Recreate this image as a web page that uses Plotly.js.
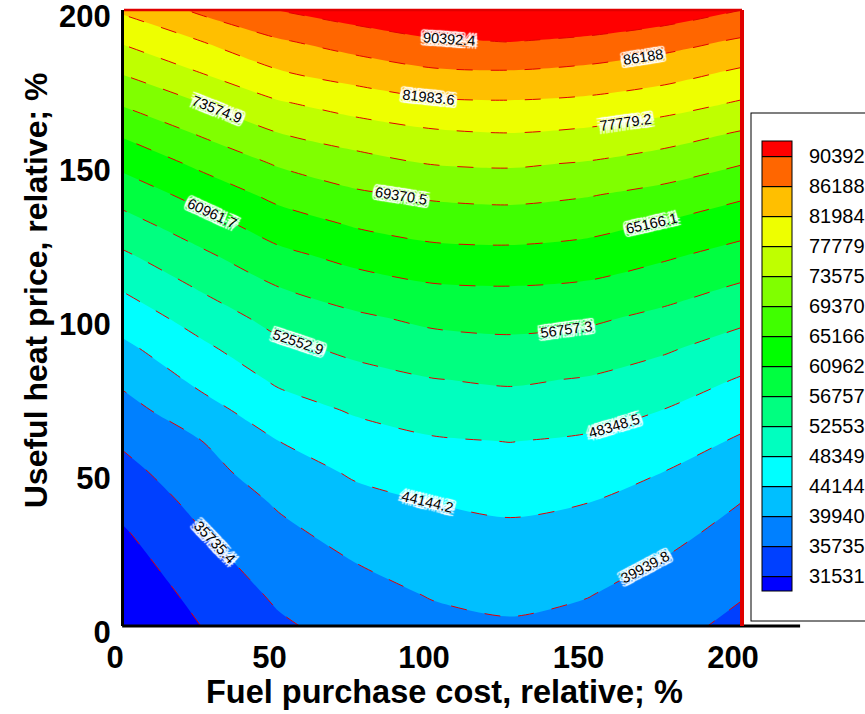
<!DOCTYPE html>
<html><head><meta charset="utf-8">
<script src="https://cdn.plot.ly/plotly-3.0.1.min.js"></script>
<style>html,body{margin:0;padding:0;background:#fff}</style>
</head><body>
<div id="chart" style="width:865px;height:714px"></div>
<script>
// Fuel purchase cost, relative (%) – grid columns
const xValues = [0, 25, 50, 75, 100, 125, 150, 175, 200];
// Useful heat price, relative (%) – grid rows
const yValues = [0, 10, 20, 30, 40, 50, 60, 70, 80, 90, 100, 110, 120, 130, 140, 150, 160, 170, 180, 190, 200];

// values read along each x column, from y = 0 up to y = 200
const zAtX0   = [27000, 28380, 29760, 31140, 32777, 34507, 36360, 38516, 40786, 43273, 45978, 48840, 51909, 55108, 58474, 62041, 65832, 69976, 74052, 78380, 82692];
const zAtX25  = [31560, 32853, 34175, 35497, 36940, 38410, 39880, 42595, 45160, 47470, 50134, 53011, 55871, 59059, 62469, 66037, 69829, 73662, 77981, 82033, 87029];
const zAtX50  = [35111, 36389, 37670, 38952, 40372, 42249, 44125, 46564, 49009, 51453, 54035, 56730, 59817, 62999, 66294, 69749, 73536, 77465, 81766, 85824, 90535];
const zAtX75  = [37400, 38639, 39878, 41425, 42988, 44670, 46691, 48765, 51075, 53487, 56082, 59044, 62191, 65431, 68741, 71989, 75637, 79697, 83872, 88182, 92560];
const zAtX100 = [38931, 40154, 41488, 42823, 44163, 46065, 47968, 50167, 52439, 55003, 57678, 60558, 63743, 66860, 69997, 73680, 77183, 81376, 85673, 90002, 94336];
const zAtX125 = [39556, 40812, 42093, 43375, 44854, 46627, 48418, 50728, 53075, 55563, 58158, 60853, 63996, 67157, 70448, 74054, 77742, 81669, 85971, 90577, 95250];
const zAtX150 = [38781, 40063, 41428, 42793, 44162, 45982, 47802, 49966, 52276, 54837, 57491, 60312, 63325, 66430, 69622, 73215, 77015, 81109, 85177, 89653, 94316];
const zAtX175 = [37000, 38295, 39590, 41052, 42575, 44098, 46163, 48244, 50593, 53011, 55706, 58513, 61436, 64597, 68112, 71647, 75448, 79686, 83717, 87901, 92964];
const zAtX200 = [34726, 35946, 37264, 38582, 39899, 41736, 43588, 45735, 48007, 50640, 53388, 56268, 59323, 62482, 65793, 69482, 73202, 77436, 81394, 85668, 90392];

// contour levels (as labelled on the chart) and legend labels
const levels = [31531.0, 35735.4, 39939.8, 44144.1, 48348.5, 52552.9, 56757.3, 60961.7, 65166.1, 69370.5, 73574.9, 77779.2, 81983.6, 86188.0, 90392.4];
const legendLabels = ['31531', '35735', '39940', '44144', '48349', '52553', '56757', '60962', '65166', '69370', '73575', '77779', '81984', '86188', '90392'];
// colour of each band, lowest (below first level) to highest (above last level)
const bandColors = ['#0000FF', '#0040FF', '#0080FF', '#00BFFF', '#00FFFF', '#00FFBF', '#00FF80', '#00FF40',
                    '#00FF00', '#40FF00', '#80FF00', '#BFFF00', '#EEFF00', '#FFBF00', '#FF6600', '#FF0000'];
const xTitle = 'Fuel purchase cost, relative; %';
const yTitle = 'Useful heat price, relative; %';

const columns = [zAtX0, zAtX25, zAtX50, zAtX75, zAtX100, zAtX125, zAtX150, zAtX175, zAtX200];
const z = yValues.map((_, i) => columns.map(c => c[i]));
const cStart = levels[0];
const cEnd = levels[levels.length - 1];
const cSize = (cEnd - cStart) / (levels.length - 1);
const colorscale = bandColors.map((c, k) => [k / (bandColors.length - 1), c]);

const FONT = 'Liberation Sans, Arial, sans-serif';
const labelHalo = ['3px 0 1px #fff', '-3px 0 1px #fff', '0 3px 1px #fff', '0 -3px 1px #fff',
                   '3px 3px 1px #fff', '-3px -3px 1px #fff', '3px -3px 1px #fff', '-3px 3px 1px #fff',
                   '0 0 3px #fff'].join(', ');

const visible = {
  type: 'contour', x: xValues, y: yValues, z: z,
  autocontour: false,
  contours: {
    start: cStart, end: cEnd, size: cSize, coloring: 'fill',
    showlines: true, showlabels: true, labelformat: '.6~g',
    labelfont: {family: FONT, size: 14.5, color: '#000', shadow: labelHalo}
  },
  colorscale: colorscale,
  line: {color: '#e00000', width: 1, dash: '16px,18px', smoothing: 0.8},
  showscale: false, hoverinfo: 'skip'
};

const legendTrace = {
  type: 'contour', x: xValues, y: yValues, z: z,
  autocontour: false, opacity: 0,
  contours: {start: cStart, end: cEnd, size: cSize, coloring: 'fill', showlines: true, showlabels: false},
  colorscale: colorscale,
  line: {color: '#000', width: 1.2, smoothing: 0.8},
  showscale: true, hoverinfo: 'skip',
  colorbar: {
    x: 1.0162, xanchor: 'left', y: 0.4213, yanchor: 'middle',
    len: 506, lenmode: 'pixels', thickness: 30, thicknessmode: 'pixels',
    bgcolor: '#fff', bordercolor: '#000', borderwidth: 1,
    outlinecolor: '#000', outlinewidth: 1,
    xpad: 10, ypad: 28,
    tickmode: 'array', tickvals: levels, ticktext: legendLabels,
    ticks: 'outside', ticklen: 13, tickcolor: 'rgba(0,0,0,0)',
    tickfont: {family: FONT, size: 20, color: '#000'}
  }
};

const axisFont = {family: FONT, size: 31, color: '#000', weight: 700};
const layout = {
  width: 865, height: 714,
  margin: {l: 124, r: 123, t: 10, b: 88, pad: 0, autoexpand: false},
  paper_bgcolor: '#fff', plot_bgcolor: '#fff',
  showlegend: false,
  xaxis: {
    range: [0, 200], tickvals: [0, 50, 100, 150, 200],
    showgrid: false, zeroline: false, showline: false,
    ticks: '', tickfont: axisFont, ticklabelshift: -9, ticklabelstandoff: 10,
    ticklabeloverflow: 'allow'
  },
  yaxis: {
    range: [0, 200], tickvals: [0, 50, 100, 150, 200],
    showgrid: false, zeroline: false, showline: true, linecolor: '#000', linewidth: 3,
    ticks: '', tickfont: axisFont, ticklabelstandoff: 4, ticklabelshift: 6,
    ticklabeloverflow: 'allow'
  },
  annotations: [
    {text: xTitle, xref: 'paper', yref: 'paper', x: 0.519, y: -0.107, xanchor: 'center', yanchor: 'middle',
     showarrow: false, font: {family: FONT, size: 32.5, color: '#000', weight: 700}},
    {text: yTitle, xref: 'paper', yref: 'paper', x: -0.1424, y: 0.545, xanchor: 'center', yanchor: 'middle',
     textangle: -90, showarrow: false, font: {family: FONT, size: 32, color: '#000', weight: 700}}
  ],
  shapes: [
    {type: 'line', xref: 'paper', yref: 'paper', x0: -0.003, x1: 1.094, y0: 0, y1: 0, line: {color: '#000', width: 3}, layer: 'above'},
    {type: 'line', xref: 'paper', yref: 'paper', x0: 1, x1: 1, y0: 0, y1: 1, line: {color: '#e00000', width: 4}, layer: 'above'},
    {type: 'line', xref: 'paper', yref: 'paper', x0: 0, x1: 1, y0: 1, y1: 1, line: {color: '#e00000', width: 2.5}, layer: 'above'}
  ]
};

Plotly.newPlot('chart', [visible, legendTrace], layout, {displayModeBar: false, staticPlot: true});
</script>
</body></html>
